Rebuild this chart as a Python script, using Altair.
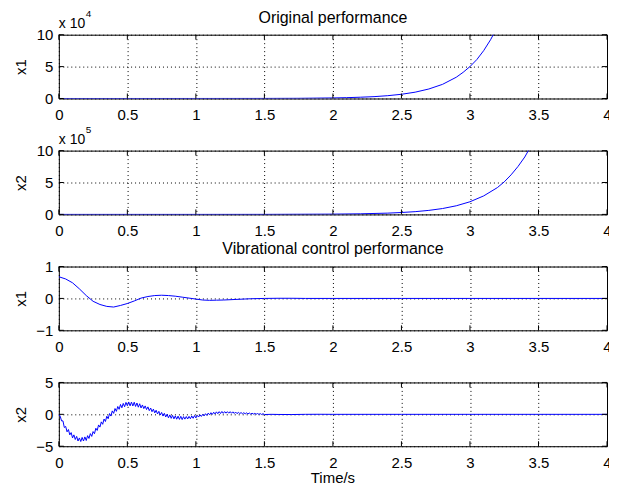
import altair as alt
import pandas as pd

FONT = "Liberation Sans"
W, H = 550, 64

# ---------------- data ----------------
# Original performance, x1 (units of 10^4)
t_o1 = [0, 0.5, 1.0, 1.5, 1.75, 2.0, 2.1, 2.2, 2.3, 2.4, 2.5, 2.6, 2.7, 2.8,
        2.9, 2.95, 3.0, 3.05, 3.1, 3.15, 3.2]
x1_o = [0.0, 0.0002, 0.0015, 0.011, 0.03, 0.087, 0.13, 0.2, 0.29, 0.44, 0.66,
        0.99, 1.49, 2.22, 3.33, 4.1, 5.0, 6.1, 7.5, 9.2, 11.2]

# Original performance, x2 (units of 10^5)
t_o2 = [0, 0.5, 1.0, 1.5, 2.0, 2.2, 2.4, 2.5, 2.6, 2.7, 2.8, 2.9, 3.0, 3.1,
        3.2, 3.25, 3.3, 3.35, 3.4, 3.45]
x2_o = [0.0, 0.0001, 0.001, 0.0066, 0.044, 0.094, 0.2, 0.30, 0.43, 0.63, 0.92,
        1.35, 1.98, 2.9, 4.2, 5.1, 6.2, 7.5, 9.0, 10.9]

# Vibrational control, x1
t_v1 = [0, 0.05, 0.1, 0.15, 0.2, 0.25, 0.3, 0.35, 0.4, 0.45, 0.5, 0.55, 0.6,
        0.65, 0.7, 0.75, 0.8, 0.85, 0.9, 0.95, 1.0, 1.05, 1.1, 1.15, 1.2, 1.3,
        1.4, 1.5, 1.6, 1.7, 1.8, 2.0, 2.5, 3.0, 3.5, 4.0]
x1_v = [0.68, 0.61, 0.49, 0.30, 0.09, -0.09, -0.19, -0.25, -0.27, -0.22,
        -0.16, -0.08, 0.01, 0.06, 0.09, 0.10, 0.09, 0.07, 0.04, 0.01, -0.02,
        -0.05, -0.06, -0.055, -0.05, -0.03, -0.01, 0.0, 0.005, 0.005, 0.0, 0.0,
        0.0, 0.0, 0.0, 0.0]

# Vibrational control, x2 (sampled every 0.01 s up to 1.5 s, ripple included)
t_v2 = [round(0.01 * i, 2) for i in range(151)] + [1.55, 1.6, 1.7, 1.8, 1.9,
                                                  2.0, 2.5, 3.0, 3.5, 4.0]
x2_v = [0, -0.29, -1.03, -1.02, -2.06, -1.9, -2.74, -2.38, -3.22, -2.86,
        -3.7, -3.22, -3.94, -3.46, -4.18, -3.7, -4.26, -3.62, -4.18, -3.54,
        -4.1, -3.34, -3.78, -3.02, -3.46, -2.7, -3.04, -2.18, -2.52, -1.66,
        -2.0, -1.18, -1.56, -0.74, -1.12, -0.3, -0.69, 0.12, -0.27, 0.54,
        0.15, 0.91, 0.47, 1.23, 0.79, 1.55, 1.03, 1.71, 1.19, 1.87,
        1.35, 1.94, 1.33, 1.92, 1.31, 1.9, 1.24, 1.78, 1.12, 1.66,
        1.0, 1.47, 0.9, 1.32, 0.75, 1.17, 0.58, 0.99, 0.41, 0.82,
        0.23, 0.64, 0.06, 0.47, -0.11, 0.3, -0.27, 0.16, -0.41, 0.02,
        -0.55, -0.09, -0.63, -0.17, -0.71, -0.25, -0.76, -0.28, -0.79, -0.31,
        -0.82, -0.36, -0.75, -0.34, -0.73, -0.32, -0.69, -0.26, -0.62, -0.19,
        -0.56, -0.17, -0.42, -0.08, -0.33, 0.01, -0.25, 0.10, -0.16, 0.19,
        -0.07, 0.26, -0.01, 0.33, 0.06, 0.39, 0.10, 0.42, 0.13, 0.45,
        0.16, 0.43, 0.19, 0.42, 0.18, 0.42, 0.17, 0.39, 0.14, 0.36,
        0.11, 0.30, 0.13, 0.27, 0.10, 0.25, 0.08, 0.23, 0.06, 0.21,
        0.04, 0.17, 0.04, 0.15, 0.02, 0.13, 0.0, 0.11, -0.02, 0.10,
        -0.03,
        0.0, -0.02, -0.03, 0.0, 0.01, 0.0, 0.0, 0.0, 0.0, 0.0]

x_ticks = [0, 0.5, 1, 1.5, 2, 2.5, 3, 3.5, 4]
y_ticks_o = [0, 5, 10]
y_ticks_v1 = [-1, 0, 1]
y_ticks_v2 = [-5, 0, 5]

BLUE = "#0000ff"
TICK = 5

# invisible frame that fixes the chart's bounds (see padding below)
PIN_L, PIN_T, PIN_R, PIN_B = 80, 45, 15, 55
# where the first plot area starts inside the SVG, and SVG size
ORIGIN_X, ORIGIN_Y = 50, 25
SVG_W, SVG_H = 601, 476


def label(text, size, x, y, align="left"):
    return alt.Chart(pd.DataFrame({"s": [text]})).mark_text(
        align=align, baseline="alphabetic", fontSize=size, font=FONT,
        color="black").encode(text="s:N", x=alt.value(x), y=alt.value(y))


def pin(y):
    return alt.Chart(pd.DataFrame({"p": [0]})).mark_rule(
        opacity=0, strokeWidth=1).encode(
        x=alt.value(-PIN_L), x2=alt.value(W + PIN_R), y=alt.value(y))


def panel(t, v, ydom, yticks, ytitle, xtitle=None, exp_label=None,
          exp_y=-17.5, title=None, title_y=-12, pin_y=None):
    df = pd.DataFrame({"t": t, "v": v})
    xscale = alt.Scale(domain=[0, 4], nice=False, zero=False)
    yscale = alt.Scale(domain=ydom, nice=False, zero=False)
    xaxis = alt.Axis(values=x_ticks, format="~f", labelFlush=False,
                     labelPadding=9, grid=True, title=None)
    yaxis = alt.Axis(values=yticks, format="~f", title=ytitle,
                     titleX=-33, titleY=H / 2, titleAngle=270,
                     titleBaseline="alphabetic", labelPadding=6, grid=True)
    xe = alt.X("t:Q", scale=xscale, axis=xaxis)
    ye = alt.Y("v:Q", scale=yscale, axis=yaxis)
    line = alt.Chart(df).mark_line(color=BLUE, strokeWidth=1,
                                   clip=True).encode(x=xe, y=ye)
    # inward major ticks on all four sides (same scales and axes)
    xt = alt.Chart(pd.DataFrame({"t": x_ticks}))
    yt = alt.Chart(pd.DataFrame({"v": yticks}))
    rule = dict(color="black", strokeWidth=1)
    ticks = [
        xt.mark_rule(**rule).encode(x=xe, y=alt.value(0), y2=alt.value(TICK)),
        xt.mark_rule(**rule).encode(x=xe, y=alt.value(H - TICK), y2=alt.value(H)),
        yt.mark_rule(**rule).encode(y=ye, x=alt.value(0), x2=alt.value(TICK)),
        yt.mark_rule(**rule).encode(y=ye, x=alt.value(W - TICK), x2=alt.value(W)),
    ]
    layers = [line] + ticks
    if exp_label:
        layers += [label("x 10", 14, 0, -6.5), label(exp_label, 10, 27, exp_y)]
    if title:
        layers.append(label(title, 16, W / 2, title_y, align="center"))
    if xtitle:
        layers.append(label(xtitle, 15, W / 2, H + 37, align="center"))
    if pin_y is not None:
        layers.append(pin(pin_y))
    return alt.layer(*layers).properties(width=W, height=H)


p1 = panel(t_o1, x1_o, [0, 10], y_ticks_o, "x1", exp_label="4", exp_y=-17.5,
           title="Original performance", title_y=-12, pin_y=-PIN_T)
p2 = panel(t_o2, x2_o, [0, 10], y_ticks_o, "x2", exp_label="5", exp_y=-18)
p3 = panel(t_v1, x1_v, [-1, 1], y_ticks_v1, "x1",
           title="Vibrational control performance", title_y=-13)
p4 = panel(t_v2, x2_v, [-5, 5], y_ticks_v2, "x2", xtitle="Time/s",
           pin_y=H + PIN_B)

SPACING = 52.3
total_h = 4 * H + 3 * SPACING

# The invisible pins define the bounds; negative padding trims them so the
# first plot area starts at (ORIGIN_X, ORIGIN_Y) inside an SVG_W x SVG_H svg.
chart = alt.VConcatChart(
    vconcat=[p1, p2, p3, p4], spacing=SPACING, bounds="flush",
    padding={"left": ORIGIN_X - PIN_L, "top": ORIGIN_Y - PIN_T,
             "right": (SVG_W - ORIGIN_X - W) - PIN_R,
             "bottom": (SVG_H - ORIGIN_Y - total_h) - PIN_B},
).configure_view(
    stroke="black", strokeWidth=1
).configure_axis(
    domain=False, ticks=False,
    labelFont=FONT, labelFontSize=15, labelColor="black",
    titleFont=FONT, titleFontSize=15, titleColor="black",
    titleFontWeight="normal",
    gridColor="black", gridDash=[1, 3], gridOpacity=1, gridWidth=1,
)

chart.save("out.html", embed_options={"renderer": "svg", "actions": False})
